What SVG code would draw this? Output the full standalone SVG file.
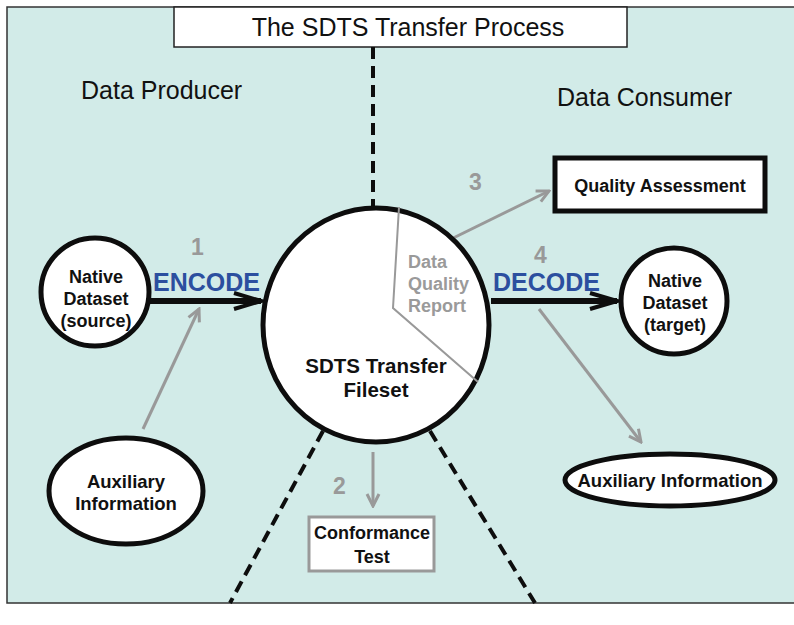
<svg xmlns="http://www.w3.org/2000/svg" width="794" height="625" viewBox="0 0 794 625">
<defs>
<style>
.lbl{font-family:"Liberation Sans",Arial,sans-serif;fill:#111}
.b{font-weight:bold}
.node{fill:#fff;stroke:#0d0d0d;stroke-width:5}
.gray{stroke:#999;stroke-width:3;fill:none}
.num{font-family:"Liberation Sans",Arial,sans-serif;font-weight:bold;font-size:23px;fill:#999}
.dash{stroke:#0d0d0d;stroke-width:4;stroke-dasharray:12 7;fill:none}
.blue{font-family:"Liberation Sans",Arial,sans-serif;font-weight:bold;font-size:25px;fill:#2c4f9f}
</style>
<marker id="ga" markerUnits="userSpaceOnUse" viewBox="-14 -8 16 16" refX="0" refY="0" markerWidth="16" markerHeight="16" orient="auto">
<path d="M-12,-6 L0,0 L-12,6" fill="none" stroke="#999" stroke-width="3"/>
</marker>
<marker id="ba" markerUnits="userSpaceOnUse" viewBox="-30 -12 34 24" refX="0" refY="0" markerWidth="34" markerHeight="24" orient="auto">
<path d="M-27,-8 L0,0 L-27,8" fill="none" stroke="#0d0d0d" stroke-width="4"/>
</marker>
</defs>
<rect x="7" y="7" width="800" height="596" fill="#d2ebe8" stroke="#333" stroke-width="1.5"/>
<g id="title">
<rect x="174" y="7" width="453" height="40" fill="#fff" stroke="#222" stroke-width="1.5"/>
<text class="lbl" x="408" y="36" font-size="25" text-anchor="middle">The SDTS Transfer Process</text>
</g>
<text class="lbl" x="81" y="99" font-size="25">Data Producer</text>
<text class="lbl" x="557" y="106" font-size="25">Data Consumer</text>
<g id="connectors">
<line class="dash" x1="373" y1="47" x2="373" y2="206"/>
<line class="dash" x1="323" y1="431" x2="230" y2="603"/>
<line class="dash" x1="430" y1="431" x2="535" y2="603"/>
<line x1="150" y1="301" x2="261" y2="301" stroke="#0d0d0d" stroke-width="6" marker-end="url(#ba)"/>
<line x1="491" y1="301" x2="617" y2="301" stroke="#0d0d0d" stroke-width="6" marker-end="url(#ba)"/>
<line class="gray" x1="143" y1="429" x2="199" y2="309" marker-end="url(#ga)"/>
<line class="gray" x1="437" y1="246" x2="549" y2="191" marker-end="url(#ga)"/>
<line class="gray" x1="373" y1="452" x2="373" y2="506" marker-end="url(#ga)"/>
<line class="gray" x1="539" y1="309" x2="641" y2="442" marker-end="url(#ga)"/>
</g>
<g id="fileset">
<ellipse class="node" cx="376" cy="325" rx="113" ry="117" stroke-width="6"/>
<polyline points="399,207 393,308 478,382" fill="none" stroke="#999" stroke-width="2"/>
<text class="lbl b" font-size="18" style="fill:#9a9a9a"><tspan x="408" y="268">Data</tspan><tspan x="408" y="290">Quality</tspan><tspan x="408" y="312">Report</tspan></text>
<text class="lbl b" font-size="20.5" text-anchor="middle"><tspan x="376" y="373">SDTS Transfer</tspan><tspan x="376" y="397">Fileset</tspan></text>
</g>
<g id="source">
<circle class="node" cx="95" cy="292" r="54"/>
<text class="lbl b" font-size="18" text-anchor="middle"><tspan x="96" y="283">Native</tspan><tspan x="96" y="305">Dataset</tspan><tspan x="96" y="327">(source)</tspan></text>
</g>
<g id="aux-left">
<ellipse class="node" cx="126" cy="491" rx="77" ry="53"/>
<text class="lbl b" font-size="18.5" text-anchor="middle"><tspan x="126" y="488">Auxiliary</tspan><tspan x="126" y="510">Information</tspan></text>
</g>
<g id="target">
<circle class="node" cx="674" cy="301" r="53"/>
<text class="lbl b" font-size="18" text-anchor="middle"><tspan x="675" y="287">Native</tspan><tspan x="675" y="309">Dataset</tspan><tspan x="675" y="331">(target)</tspan></text>
</g>
<g id="aux-right">
<ellipse class="node" cx="670" cy="480" rx="105" ry="26"/>
<text class="lbl b" font-size="18.5" text-anchor="middle" x="670" y="487">Auxiliary Information</text>
</g>
<g id="quality">
<rect x="555" y="158" width="210" height="53" fill="#fff" stroke="#0d0d0d" stroke-width="5"/>
<text class="lbl b" font-size="18" text-anchor="middle" x="660" y="192">Quality Assessment</text>
</g>
<g id="conformance">
<rect x="309" y="517" width="125" height="54" fill="#fff" stroke="#999" stroke-width="3"/>
<text class="lbl b" font-size="18" text-anchor="middle"><tspan x="372" y="539">Conformance</tspan><tspan x="372" y="563">Test</tspan></text>
</g>
<text class="blue" x="153" y="291">ENCODE</text>
<text class="blue" x="493" y="291">DECODE</text>
<text class="num" x="191" y="255">1</text>
<text class="num" x="333" y="494">2</text>
<text class="num" x="469" y="190">3</text>
<text class="num" x="534" y="263">4</text>
</svg>
